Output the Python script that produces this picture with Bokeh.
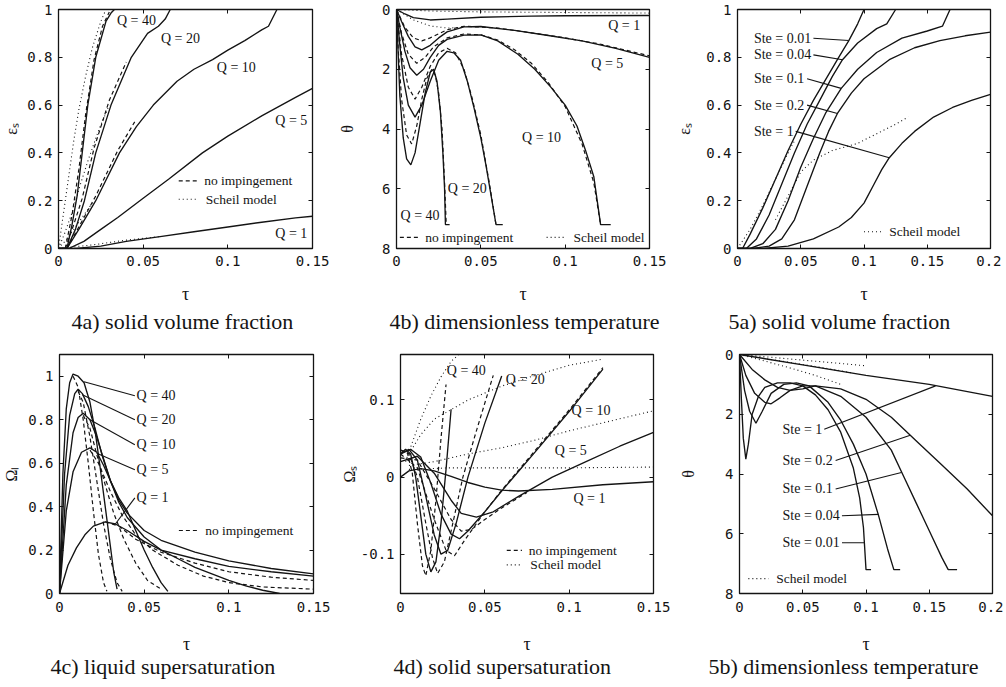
from bokeh.plotting import figure
from bokeh.models import Range1d, Label, Title, LinearAxis, FixedTicker
from bokeh.layouts import row, column
from bokeh.embed import file_html
from bokeh.resources import INLINE

SERIF = "Liberation Serif"
MONO = "DejaVu Sans Mono"
INK = "#141414"

# ---------------- 4a) solid volume fraction ----------------
a_q40 = [(0, 0), (0.005, 0), (0.008, 0.1), (0.011, 0.22), (0.014, 0.4), (0.0173, 0.6), (0.022, 0.8), (0.028, 0.95), (0.031, 0.985), (0.033, 1.0)]
a_q20 = [(0, 0), (0.005, 0), (0.01, 0.08), (0.0153, 0.2), (0.022, 0.4), (0.031, 0.6), (0.043, 0.8), (0.0526, 0.9), (0.059, 0.93), (0.063, 0.96), (0.066, 1.0)]
a_q10 = [(0, 0), (0.005, 0), (0.012, 0.08), (0.022, 0.2), (0.036, 0.4), (0.046, 0.51), (0.056, 0.6), (0.07, 0.7), (0.08, 0.75), (0.091, 0.79), (0.1, 0.83), (0.11, 0.87), (0.12, 0.915), (0.124, 0.93), (0.129, 1.0)]
a_q5 = [(0, 0), (0.006, 0), (0.015, 0.03), (0.025, 0.08), (0.035, 0.13), (0.05, 0.21), (0.065, 0.29), (0.085, 0.4), (0.1, 0.47), (0.12, 0.555), (0.14, 0.632), (0.15, 0.67)]
a_q1 = [(0, 0), (0.01, 0), (0.025, 0.01), (0.04, 0.03), (0.06, 0.05), (0.08, 0.07), (0.1, 0.09), (0.12, 0.11), (0.14, 0.128), (0.15, 0.135)]
a_q40_noimp = [(0.004, 0), (0.008, 0.14), (0.012, 0.33), (0.016, 0.56), (0.021, 0.79), (0.026, 0.93), (0.03, 0.99)]
a_q20_noimp = [(0.004, 0), (0.009, 0.1), (0.014, 0.21), (0.021, 0.42), (0.03, 0.62), (0.04, 0.78)]
a_q10_noimp = [(0.005, 0), (0.012, 0.09), (0.022, 0.22), (0.035, 0.41), (0.045, 0.53)]
a_q40_scheil = [(0, 0), (0.003, 0.15), (0.006, 0.3), (0.009, 0.45), (0.012, 0.58), (0.016, 0.72), (0.02, 0.84), (0.025, 0.95), (0.028, 1.0)]
a_q20_scheil = [(0, 0), (0.004, 0.07), (0.008, 0.15), (0.013, 0.27), (0.018, 0.38), (0.024, 0.5), (0.03, 0.6)]
a_q10_scheil = [(0, 0), (0.005, 0.04), (0.01, 0.09), (0.015, 0.14), (0.02, 0.19)]
a_q1_scheil = [(0, 0), (0.02, 0.015), (0.04, 0.035), (0.06, 0.05)]
a_lab_text = ["Q = 40", "Q = 20", "Q = 10", "Q = 5", "Q = 1"]
a_lab_x = [0.046, 0.072, 0.105, 0.1375, 0.1375]
a_lab_y = [0.955, 0.877, 0.758, 0.534, 0.063]
a_leg_x = 0.071
a_leg_y = [0.283, 0.206]

# ---------------- 4b) dimensionless temperature ----------------
b_q1 = [(0, 0), (0.005, 0.15), (0.01, 0.27), (0.02, 0.35), (0.03, 0.32), (0.05, 0.26), (0.08, 0.22), (0.1, 0.21), (0.15, 0.2)]
b_q5 = [(0, 0), (0.003, 0.4), (0.007, 0.9), (0.011, 1.25), (0.015, 1.35), (0.02, 1.2), (0.025, 0.95), (0.03, 0.75), (0.04, 0.58), (0.05, 0.57), (0.07, 0.7), (0.09, 0.87), (0.11, 1.05), (0.13, 1.3), (0.15, 1.6)]
b_q10 = [(0, 0), (0.002, 0.6), (0.005, 1.4), (0.008, 1.95), (0.012, 2.2), (0.016, 2.0), (0.02, 1.6), (0.025, 1.2), (0.03, 1.0), (0.04, 0.86), (0.05, 0.85), (0.06, 1.05), (0.072, 1.5), (0.082, 2.0), (0.0915, 2.6), (0.1, 3.2), (0.107, 3.9), (0.112, 4.7), (0.117, 5.6), (0.119, 6.4), (0.121, 7.2), (0.127, 7.2)]
b_q20 = [(0, 0), (0.002, 1.2), (0.004, 2.3), (0.007, 3.2), (0.011, 3.6), (0.015, 3.2), (0.02, 2.4), (0.025, 1.7), (0.03, 1.4), (0.034, 1.45), (0.038, 1.7), (0.042, 2.4), (0.046, 3.3), (0.05, 4.3), (0.053, 5.2), (0.056, 6.2), (0.059, 7.2), (0.063, 7.2)]
b_q40 = [(0, 0), (0.001, 1.5), (0.002, 2.9), (0.004, 4.3), (0.006, 5.0), (0.0085, 5.2), (0.011, 4.8), (0.014, 3.8), (0.017, 2.8), (0.02, 2.1), (0.022, 2.0), (0.024, 2.4), (0.026, 3.4), (0.0275, 4.8), (0.0285, 6.0), (0.029, 7.2), (0.0315, 7.2)]
b_q40_noimp = [(0, 0), (0.001, 1.3), (0.003, 3.0), (0.006, 4.2), (0.009, 4.5), (0.012, 3.9), (0.015, 3.0), (0.018, 2.3), (0.021, 2.0), (0.023, 2.2), (0.025, 2.8), (0.027, 4.0), (0.0285, 5.8), (0.0295, 7.2)]
b_q20_noimp = [(0, 0), (0.003, 1.5), (0.007, 2.6), (0.011, 3.0), (0.015, 2.6), (0.02, 1.9), (0.025, 1.45), (0.03, 1.3), (0.035, 1.45), (0.04, 2.0), (0.045, 3.0), (0.05, 4.2), (0.055, 5.8), (0.059, 7.2)]
b_q10_noimp = [(0, 0), (0.003, 0.8), (0.007, 1.5), (0.012, 1.8), (0.017, 1.6), (0.022, 1.25), (0.03, 0.95), (0.04, 0.82), (0.05, 0.85), (0.06, 1.02), (0.07, 1.35), (0.08, 1.8), (0.09, 2.45), (0.1, 3.25), (0.11, 4.5), (0.117, 5.8), (0.121, 7.2)]
b_q5_noimp = [(0, 0), (0.005, 0.6), (0.01, 0.95), (0.015, 1.05), (0.02, 0.95), (0.03, 0.68), (0.04, 0.56), (0.06, 0.62), (0.08, 0.78), (0.1, 0.95), (0.12, 1.15), (0.15, 1.55)]
b_scheil_1 = [(0, 0), (0.02, 0.05), (0.05, 0.08), (0.1, 0.1), (0.15, 0.12)]
b_scheil_2 = [(0, 0), (0.01, 0.35), (0.02, 0.55), (0.03, 0.62), (0.04, 0.6)]
b_lab_text = ["Q = 1", "Q = 5", "Q = 10", "Q = 20", "Q = 40"]
b_lab_x = [0.135, 0.125, 0.086, 0.042, 0.014]
b_lab_y = [0.55, 1.8, 4.3, 6.0, 6.9]
b_leg_x = [0.002, 0.089]
b_leg_y = 7.63

# ---------------- 5a) solid volume fraction (Stefan number) ----------------
c_ste001 = [(0, 0), (0.004, 0), (0.01, 0.06), (0.02, 0.17), (0.03, 0.29), (0.04, 0.41), (0.05, 0.52), (0.06, 0.62), (0.07, 0.71), (0.08, 0.8), (0.088, 0.87), (0.095, 0.94), (0.1, 1.0)]
c_ste004 = [(0, 0), (0.007, 0), (0.015, 0.04), (0.025, 0.14), (0.035, 0.27), (0.045, 0.4), (0.055, 0.52), (0.065, 0.62), (0.075, 0.72), (0.083, 0.79), (0.095, 0.86), (0.11, 0.92), (0.118, 0.94), (0.125, 1.0)]
c_ste01 = [(0, 0), (0.01, 0), (0.02, 0.02), (0.03, 0.08), (0.04, 0.2), (0.05, 0.34), (0.06, 0.46), (0.07, 0.57), (0.082, 0.67), (0.095, 0.75), (0.11, 0.82), (0.13, 0.88), (0.15, 0.91), (0.162, 0.93), (0.168, 1.0)]
c_ste02 = [(0, 0), (0.012, 0), (0.025, 0.01), (0.035, 0.04), (0.045, 0.12), (0.055, 0.26), (0.065, 0.4), (0.072, 0.49), (0.079, 0.565), (0.09, 0.65), (0.1, 0.71), (0.12, 0.79), (0.14, 0.84), (0.16, 0.87), (0.18, 0.89), (0.2, 0.905)]
c_ste1 = [(0, 0), (0.02, 0), (0.04, 0.01), (0.06, 0.04), (0.08, 0.09), (0.09, 0.13), (0.1, 0.19), (0.108, 0.27), (0.114, 0.33), (0.12, 0.38), (0.13, 0.44), (0.14, 0.49), (0.155, 0.55), (0.17, 0.59), (0.185, 0.62), (0.2, 0.645)]
c_scheil_1 = [(0, 0), (0.01, 0.08), (0.02, 0.18), (0.03, 0.29), (0.04, 0.4), (0.045, 0.45)]
c_scheil_2 = [(0.03, 0.12), (0.04, 0.22), (0.05, 0.32), (0.06, 0.37), (0.075, 0.41), (0.095, 0.44), (0.11, 0.48), (0.125, 0.52), (0.135, 0.55)]
c_lab_text = ["Ste = 0.01", "Ste = 0.04", "Ste = 0.1", "Ste = 0.2", "Ste = 1"]
c_lab_x = 0.013
c_lab_y = [0.88, 0.81, 0.71, 0.6, 0.49]
c_lead_x0 = [0.06, 0.06, 0.055, 0.055, 0.046]
c_lead_x1 = [0.088, 0.083, 0.082, 0.079, 0.12]
c_lead_y1 = [0.87, 0.79, 0.67, 0.565, 0.38]
c_leg_x = 0.1
c_leg_y = 0.07

# ---------------- 4c) liquid supersaturation ----------------
d_q40 = [(0, 0), (0.002, 0.55), (0.004, 0.85), (0.006, 0.97), (0.008, 1.01), (0.011, 1.0), (0.0145, 0.97), (0.018, 0.88), (0.021, 0.75), (0.024, 0.58), (0.027, 0.4), (0.03, 0.22), (0.032, 0.1), (0.034, 0.02)]
d_q20 = [(0, 0), (0.003, 0.55), (0.006, 0.82), (0.009, 0.92), (0.011, 0.94), (0.0135, 0.92), (0.017, 0.86), (0.021, 0.76), (0.025, 0.64), (0.03, 0.52), (0.035, 0.44), (0.04, 0.38), (0.045, 0.29), (0.05, 0.2), (0.055, 0.12), (0.06, 0.05), (0.064, 0.01)]
d_q10 = [(0, 0), (0.004, 0.5), (0.008, 0.74), (0.011, 0.81), (0.014, 0.83), (0.018, 0.8), (0.022, 0.72), (0.026, 0.62), (0.03, 0.52), (0.035, 0.42), (0.04, 0.35), (0.05, 0.26), (0.06, 0.2), (0.07, 0.16), (0.08, 0.12), (0.09, 0.09), (0.1, 0.06), (0.11, 0.035), (0.12, 0.015), (0.13, 0.0)]
d_q5 = [(0, 0), (0.004, 0.38), (0.008, 0.56), (0.013, 0.65), (0.018, 0.67), (0.022, 0.65), (0.026, 0.59), (0.03, 0.52), (0.035, 0.43), (0.04, 0.37), (0.05, 0.29), (0.06, 0.245), (0.08, 0.19), (0.1, 0.15), (0.125, 0.115), (0.15, 0.09)]
d_q1 = [(0, 0), (0.005, 0.13), (0.01, 0.21), (0.015, 0.27), (0.02, 0.31), (0.027, 0.33), (0.033, 0.32), (0.04, 0.29), (0.05, 0.24), (0.06, 0.2), (0.08, 0.16), (0.1, 0.125), (0.125, 0.1), (0.15, 0.08)]
d_q40_noimp = [(0.008, 1.0), (0.011, 0.95), (0.014, 0.8), (0.017, 0.6), (0.02, 0.38), (0.023, 0.18), (0.026, 0.05), (0.028, 0.01)]
d_q20_noimp = [(0.011, 0.93), (0.014, 0.88), (0.018, 0.72), (0.022, 0.52), (0.026, 0.32), (0.03, 0.16), (0.034, 0.05), (0.037, 0.01)]
d_q10_noimp = [(0.014, 0.82), (0.018, 0.76), (0.022, 0.64), (0.027, 0.5), (0.032, 0.37), (0.038, 0.25), (0.045, 0.14), (0.052, 0.06), (0.06, 0.02)]
d_q5_noimp = [(0.018, 0.66), (0.023, 0.6), (0.03, 0.47), (0.037, 0.36), (0.045, 0.27), (0.055, 0.2), (0.07, 0.13), (0.085, 0.08), (0.1, 0.05), (0.12, 0.03), (0.15, 0.02)]
d_q1_noimp = [(0.027, 0.33), (0.035, 0.31), (0.045, 0.25), (0.06, 0.19), (0.08, 0.14), (0.1, 0.1), (0.125, 0.075), (0.15, 0.06)]
d_lab_text = ["Q = 40", "Q = 20", "Q = 10", "Q = 5", "Q = 1"]
d_lab_x = 0.0455
d_lab_y = [0.91, 0.8, 0.685, 0.57, 0.44]
d_lead_x0 = [0.0145, 0.0135, 0.018, 0.022, 0.033]
d_lead_y0 = [0.975, 0.915, 0.8, 0.645, 0.32]
d_lead_x1 = 0.0445
d_leg_x = 0.0705
d_leg_y = 0.29

# ---------------- 4d) solid supersaturation ----------------
e_q40 = [(0, 0.03), (0.003, 0.036), (0.006, 0.03), (0.009, 0.0), (0.012, -0.05), (0.015, -0.1), (0.018, -0.123), (0.021, -0.11), (0.024, -0.06), (0.027, 0.01), (0.03, 0.088)]
e_q40_noimp = [(0, 0.035), (0.004, 0.032), (0.007, 0.005), (0.01, -0.06), (0.013, -0.115), (0.015, -0.128), (0.018, -0.095), (0.021, -0.03), (0.024, 0.05), (0.027, 0.12)]
e_q20 = [(0, 0.03), (0.005, 0.036), (0.01, 0.022), (0.015, -0.025), (0.02, -0.075), (0.024, -0.1), (0.028, -0.095), (0.033, -0.06), (0.04, 0.0), (0.05, 0.07), (0.06, 0.131)]
e_q20_noimp = [(0, 0.035), (0.005, 0.03), (0.01, 0.0), (0.015, -0.06), (0.019, -0.105), (0.022, -0.125), (0.026, -0.11), (0.03, -0.07), (0.037, 0.0), (0.045, 0.06), (0.055, 0.132)]
e_q10 = [(0, 0.03), (0.006, 0.036), (0.012, 0.026), (0.018, -0.008), (0.024, -0.048), (0.03, -0.074), (0.035, -0.08), (0.04, -0.07), (0.05, -0.045), (0.06, -0.018), (0.08, 0.033), (0.1, 0.085), (0.12, 0.14)]
e_q10_noimp = [(0, 0.03), (0.01, 0.012), (0.02, -0.055), (0.027, -0.095), (0.032, -0.102), (0.038, -0.082), (0.05, -0.045), (0.06, -0.017), (0.08, 0.035), (0.1, 0.087), (0.12, 0.142)]
e_q5 = [(0, 0.02), (0.01, 0.027), (0.02, 0.005), (0.03, -0.03), (0.036, -0.047), (0.045, -0.052), (0.055, -0.045), (0.07, -0.025), (0.09, 0.0), (0.11, 0.02), (0.13, 0.04), (0.15, 0.058)]
e_q5_noimp = [(0, 0.025), (0.01, 0.022), (0.02, -0.015), (0.03, -0.055), (0.036, -0.07), (0.042, -0.068), (0.05, -0.055), (0.06, -0.04), (0.075, -0.02)]
e_q1 = [(0, 0.0), (0.005, 0.008), (0.012, 0.011), (0.02, 0.008), (0.03, 0.001), (0.04, -0.007), (0.05, -0.013), (0.06, -0.017), (0.07, -0.018), (0.09, -0.016), (0.12, -0.01), (0.15, -0.006)]
e_q40_scheil = [(0.003, 0.02), (0.007, 0.045), (0.012, 0.075), (0.018, 0.105), (0.024, 0.13), (0.03, 0.15), (0.035, 0.16)]
e_q20_scheil = [(0.005, 0.03), (0.012, 0.055), (0.02, 0.075), (0.04, 0.1), (0.06, 0.118), (0.08, 0.132), (0.1, 0.145), (0.12, 0.153)]
e_q10_scheil = [(0.005, 0.015), (0.02, 0.02), (0.04, 0.03), (0.06, 0.038), (0.08, 0.048), (0.1, 0.06), (0.125, 0.073), (0.15, 0.086)]
e_q5_scheil = [(0.005, 0.01), (0.03, 0.012), (0.06, 0.012), (0.1, 0.012), (0.15, 0.013)]
e_lab_text = ["Q = 40", "Q = 20", "Q = 10", "Q = 5", "Q = 1"]
e_lab_x = [0.039, 0.074, 0.113, 0.101, 0.112]
e_lab_y = [0.138, 0.127, 0.086, 0.0345, -0.028]
e_leg_x = 0.063
e_leg_y = [-0.095, -0.114]

# ---------------- 5b) dimensionless temperature (Stefan number) ----------------
f_ste001 = [(0, 0), (0.0015, 1.5), (0.003, 2.8), (0.005, 3.5), (0.007, 3.0), (0.01, 2.0), (0.015, 1.4), (0.02, 1.1), (0.03, 0.95), (0.04, 0.95), (0.05, 1.05), (0.06, 1.35), (0.07, 1.85), (0.08, 2.6), (0.09, 3.8), (0.095, 4.8), (0.098, 5.8), (0.1, 7.2), (0.104, 7.2)]
f_ste004 = [(0, 0), (0.004, 1.2), (0.008, 1.9), (0.013, 2.3), (0.018, 1.9), (0.025, 1.3), (0.035, 1.0), (0.045, 0.95), (0.055, 1.05), (0.07, 1.6), (0.08, 2.2), (0.09, 3.0), (0.1, 4.0), (0.11, 5.4), (0.117, 6.5), (0.122, 7.2), (0.127, 7.2)]
f_ste01 = [(0, 0), (0.005, 0.7), (0.012, 1.3), (0.02, 1.6), (0.025, 1.65), (0.032, 1.45), (0.04, 1.2), (0.05, 1.05), (0.06, 1.05), (0.08, 1.4), (0.1, 2.1), (0.12, 3.2), (0.13, 4.1), (0.14, 5.0), (0.15, 5.9), (0.16, 6.8), (0.165, 7.2), (0.172, 7.2)]
f_ste02 = [(0, 0), (0.01, 0.5), (0.02, 0.85), (0.03, 1.1), (0.04, 1.2), (0.05, 1.15), (0.06, 1.05), (0.08, 1.15), (0.1, 1.5), (0.12, 2.1), (0.14, 2.9), (0.16, 3.7), (0.18, 4.5), (0.2, 5.4)]
f_ste1 = [(0, 0), (0.05, 0.35), (0.1, 0.7), (0.15, 1.0), (0.2, 1.4)]
f_scheil_1 = [(0, 0), (0.02, 0.22), (0.04, 0.45), (0.06, 0.7), (0.08, 1.0)]
f_scheil_2 = [(0, 0), (0.03, 0.2), (0.06, 0.4), (0.09, 0.62)]
f_scheil_3 = [(0, 0), (0.04, 0.15), (0.08, 0.3), (0.1, 0.38)]
f_lab_text = ["Ste = 0.01", "Ste = 0.04", "Ste = 0.1", "Ste = 0.2", "Ste = 1"]
f_lab_x = 0.034
f_lab_y = [6.3, 5.4, 4.5, 3.55, 2.5]
f_lead_x0 = [0.081, 0.081, 0.076, 0.076, 0.067]
f_lead_x1 = [0.0985, 0.11, 0.128, 0.135, 0.155]
f_lead_y1 = [6.3, 5.35, 3.95, 2.7, 1.05]
f_leg_x = 0.007
f_leg_y = 7.5

T_TICKS_A = [0, 0.05, 0.1, 0.15]
T_TICKS_B = [0, 0.05, 0.1, 0.15, 0.2]
FRAC_TICKS = [0, 0.2, 0.4, 0.6, 0.8, 1]
THETA_TICKS = [0, 2, 4, 6, 8]
OMS_TICKS = [-0.1, 0, 0.1]

LAB_SIZE = "14px"
LEG_SIZE = "13.5px"
CAP_SIZE = "22px"
LW = 1.35


def fmt(t):
    return "%g" % t


def xs(c):
    return [q[0] for q in c]


def ys(c):
    return [q[1] for q in c]


def blank_axis(ticks):
    return LinearAxis(ticker=FixedTicker(ticks=ticks), major_label_overrides={t: "" for t in ticks},
                      major_label_text_font_size="0px", major_tick_in=4, major_tick_out=0,
                      minor_tick_line_color=None, axis_line_color=INK, major_tick_line_color=INK,
                      major_label_standoff=0)


def panel(xr, yr, xt, yt, ylabel, caption, L, R, FW, FH, T, B, ylab_sd, tick_sd, xlab_sd, cap_sd, cap_off):
    p = figure(frame_width=FW, frame_height=FH, x_range=Range1d(*xr), y_range=Range1d(*yr),
               output_backend="svg", toolbar_location=None,
               min_border_left=L, min_border_right=R, min_border_top=T, min_border_bottom=B,
               outline_line_color=INK, outline_line_width=1.3,
               background_fill_color="white", border_fill_color="white")
    p.grid.visible = False
    xa = p.xaxis[0]
    ya = p.yaxis[0]
    xa.ticker = FixedTicker(ticks=xt)
    ya.ticker = FixedTicker(ticks=yt)
    xa.major_label_overrides = {t: fmt(t) for t in xt}
    ya.major_label_overrides = {t: fmt(t) for t in yt}
    for ax in (xa, ya):
        ax.major_tick_in = 4
        ax.major_tick_out = 0
        ax.minor_tick_line_color = None
        ax.axis_line_color = INK
        ax.major_tick_line_color = INK
        ax.major_label_text_font = MONO
        ax.major_label_text_font_size = "14px"
        ax.major_label_text_color = INK
        ax.axis_label_text_font = SERIF
        ax.axis_label_text_font_style = "normal"
        ax.axis_label_text_color = INK
    xa.axis_label = "τ"
    xa.axis_label_text_font_size = "18px"
    xa.major_label_standoff = tick_sd
    xa.axis_label_standoff = xlab_sd
    ya.axis_label = ylabel
    ya.axis_label_text_font_size = "16px"
    ya.major_label_standoff = 6
    ya.axis_label_standoff = ylab_sd
    p.add_layout(blank_axis(yt), "right")
    p.add_layout(blank_axis(xt), "above")
    cap = Title(text=caption, align="left", offset=cap_off, text_font=SERIF, text_font_size=CAP_SIZE,
                text_font_style="normal", text_color=INK)
    if "standoff" in cap.properties():
        cap.standoff = cap_sd
    p.add_layout(cap, "below")
    return p


def curve(p, c, dash="solid", w=LW):
    p.line(xs(c), ys(c), line_color=INK, line_width=w, line_dash=dash)


def label(p, x, y, text, size=LAB_SIZE, align="center"):
    p.add_layout(Label(x=x, y=y, text=text, text_font=SERIF, text_font_size=size,
                       text_align=align, text_baseline="middle", text_color=INK))


def legend_item(p, x, y, w, dash, text, gap):
    p.line([x, x + w], [y, y], line_color=INK, line_width=1.2, line_dash=dash)
    label(p, x + w + gap, y, text, size=LEG_SIZE, align="left")


SOLID, DASH, DOT = "solid", "4 3", "1 3"

# row 1: 9 + 239 + 88 ; row 2: 18 + 239 + 86
# ----- 4a -----
pa = panel((0, 0.15), (0, 1), T_TICKS_A, FRAC_TICKS, "εₛ", "4a) solid volume fraction",
           54, 24, 254, 239, 9, 88, 4, 7, 15, 0, 13)
for c in (a_q40_scheil, a_q20_scheil, a_q10_scheil, a_q1_scheil):
    curve(pa, c, DOT, 1.1)
for c in (a_q40_noimp, a_q20_noimp, a_q10_noimp):
    curve(pa, c, DASH, 1.2)
for c in (a_q40, a_q20, a_q10, a_q5, a_q1):
    curve(pa, c)
for t, x, y in zip(a_lab_text, a_lab_x, a_lab_y):
    label(pa, x, y, t)
legend_item(pa, a_leg_x, a_leg_y[0], 0.011, DASH, "no impingement", 0.004)
legend_item(pa, a_leg_x, a_leg_y[1], 0.011, DOT, "Scheil model", 0.005)

# ----- 4b -----
pb = panel((0, 0.15), (8, 0), T_TICKS_A, THETA_TICKS, "θ", "4b) dimensionless temperature",
           59, 24, 253, 239, 9, 88, 23, 7, 15, 0, -7)
for c in (b_scheil_1, b_scheil_2):
    curve(pb, c, DOT, 1.1)
for c in (b_q40_noimp, b_q20_noimp, b_q10_noimp, b_q5_noimp):
    curve(pb, c, DASH, 1.2)
for c in (b_q1, b_q5, b_q10, b_q20, b_q40):
    curve(pb, c)
for t, x, y in zip(b_lab_text, b_lab_x, b_lab_y):
    label(pb, x, y, t)
legend_item(pb, b_leg_x[0], b_leg_y, 0.011, DASH, "no impingement", 0.004)
legend_item(pb, b_leg_x[1], b_leg_y, 0.011, DOT, "Scheil model", 0.005)

# ----- 5a -----
pc = panel((0, 0.2), (0, 1), T_TICKS_B, FRAC_TICKS, "εₛ", "5a) solid volume fraction",
           58, 11, 253, 239, 9, 88, 10, 7, 15, 0, -9)
for c in (c_scheil_1, c_scheil_2):
    curve(pc, c, DOT, 1.1)
for c in (c_ste001, c_ste004, c_ste01, c_ste02, c_ste1):
    curve(pc, c)
for t, y in zip(c_lab_text, c_lab_y):
    label(pc, c_lab_x, y, t, align="left")
pc.segment(c_lead_x0, c_lab_y, c_lead_x1, c_lead_y1, line_color=INK, line_width=1.1)
legend_item(pc, c_leg_x, c_leg_y, 0.014, DOT, "Scheil model", 0.006)

# ----- 4c -----
pd = panel((0, 0.15), (0, 1.1), T_TICKS_A, FRAC_TICKS, "Ωₗ", "4c) liquid supersaturation",
           54, 24, 254, 239, 18, 86, 5, 8, 19, -10, -9)
for c in (d_q40_noimp, d_q20_noimp, d_q10_noimp, d_q5_noimp, d_q1_noimp):
    curve(pd, c, DASH, 1.2)
for c in (d_q40, d_q20, d_q10, d_q5, d_q1):
    curve(pd, c)
for t, y in zip(d_lab_text, d_lab_y):
    label(pd, d_lab_x, y, t, align="left")
pd.segment(d_lead_x0, d_lead_y0, [d_lead_x1] * len(d_lab_y), d_lab_y, line_color=INK, line_width=1.1)
legend_item(pd, d_leg_x, d_leg_y, 0.0115, DASH, "no impingement", 0.004)

# ----- 4d -----
pe = panel((0, 0.15), (-0.151, 0.159), T_TICKS_A, OMS_TICKS, "Ωₛ", "4d) solid supersaturation",
           59, 24, 253, 239, 18, 86, 0, 8, 19, -10, -7)
for c in (e_q40_scheil, e_q20_scheil, e_q10_scheil, e_q5_scheil):
    curve(pe, c, DOT, 1.1)
for c in (e_q40_noimp, e_q20_noimp, e_q10_noimp, e_q5_noimp):
    curve(pe, c, DASH, 1.2)
for c in (e_q40, e_q20, e_q10, e_q5, e_q1):
    curve(pe, c)
for t, x, y in zip(e_lab_text, e_lab_x, e_lab_y):
    label(pe, x, y, t)
legend_item(pe, e_leg_x, e_leg_y[0], 0.009, DASH, "no impingement", 0.004)
legend_item(pe, e_leg_x, e_leg_y[1], 0.009, DOT, "Scheil model", 0.005)

# ----- 5b -----
pf = panel((0, 0.2), (8, 0), T_TICKS_B, THETA_TICKS, "θ", "5b) dimensionless temperature",
           58, 11, 253, 239, 18, 86, 25, 8, 19, -10, -31)
for c in (f_scheil_1, f_scheil_2, f_scheil_3):
    curve(pf, c, DOT, 1.1)
for c in (f_ste001, f_ste004, f_ste01, f_ste02, f_ste1):
    curve(pf, c)
for t, y in zip(f_lab_text, f_lab_y):
    label(pf, f_lab_x, y, t, align="left")
pf.segment(f_lead_x0, f_lab_y, f_lead_x1, f_lead_y1, line_color=INK, line_width=1.1)
legend_item(pf, f_leg_x, f_leg_y, 0.016, DOT, "Scheil model", 0.006)

layout = column(row(pa, pb, pc), row(pd, pe, pf))
open("out.html", "w").write(file_html(layout, INLINE, title="Solidification model results"))
